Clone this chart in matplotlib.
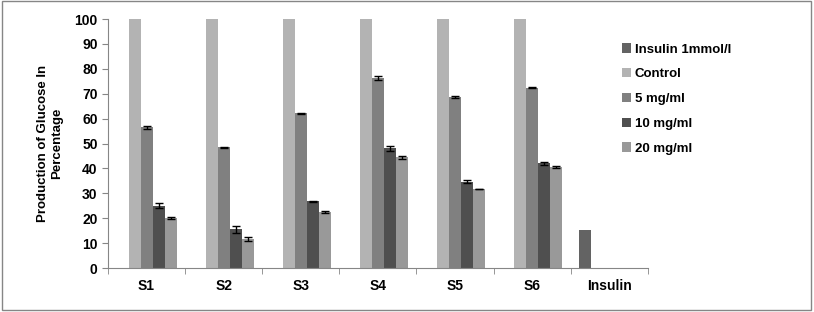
# -*- coding: utf-8 -*-
import numpy as np
import matplotlib
matplotlib.use('Agg')
import matplotlib.pyplot as plt
from matplotlib.patches import Rectangle

plt.rcParams['font.family'] = ['Liberation Sans', 'DejaVu Sans']

categories = ['S1', 'S2', 'S3', 'S4', 'S5', 'S6', 'Insulin']
series = ['Insulin 1mmol/l', 'Control', '5 mg/ml', '10 mg/ml', '20 mg/ml']
insulin = [0, 0, 0, 0, 0, 0, 15.3]
control = [100, 100, 100, 100, 100, 100, 0]
mg5 = [56.5, 48.5, 62.1, 76.3, 68.7, 72.5, 0]
mg10 = [25.0, 15.5, 26.8, 48.0, 34.7, 42.0, 0]
mg20 = [20.0, 11.5, 22.4, 44.4, 31.8, 40.4, 0]
err_mg5 = [0.5, 0.3, 0.3, 0.8, 0.3, 0.4, 0]
err_mg10 = [1.0, 1.4, 0.1, 1.0, 0.6, 0.7, 0]
err_mg20 = [0.4, 0.8, 0.4, 0.7, 0.1, 0.4, 0]

colors = ['#636363', '#b3b3b3', '#808080', '#4f4f4f', '#999999']

fig = plt.figure(figsize=(8.14, 3.12), dpi=100)
ax = fig.add_axes([0.1327, 0.141, 0.663, 0.798])

x = np.arange(len(categories))
w = 0.156
values = [insulin, control, mg5, mg10, mg20]
errs = [None, None, err_mg5, err_mg10, err_mg20]
for i, (vals, c, lab) in enumerate(zip(values, colors, series)):
    pos = x + (i - 2) * w
    ax.bar(pos, vals, w, color=c, label=lab)
    if errs[i] is not None:
        ax.errorbar(pos[:6], vals[:6], yerr=errs[i][:6], fmt='none',
                    ecolor='black', elinewidth=1, capsize=3, capthick=1)

ax.set_xlim(-0.5, len(categories) - 0.5)
ax.set_ylim(0, 100)
ax.set_yticks(np.arange(0, 101, 10))
ax.set_xticks(x)
ax.set_xticklabels(categories, fontweight='bold', fontsize=10)
ax.set_xticks(np.arange(-0.5, len(categories)), minor=True)
ax.tick_params(axis='x', which='major', length=0, pad=8)
ax.tick_params(axis='x', which='minor', length=4, color='#868686', direction='out')
ax.tick_params(axis='y', length=4, color='#868686', labelsize=10)
for t in ax.get_yticklabels():
    t.set_fontweight('bold')

for s in ['top', 'right']:
    ax.spines[s].set_visible(False)
for s in ['left', 'bottom']:
    ax.spines[s].set_color('#868686')

ax.set_ylabel('Production of Glucose In\nPercentage', fontweight='bold', fontsize=9.5,
              labelpad=8)

ax.legend(loc='upper left', bbox_to_anchor=(0.93, 0.95), frameon=False,
          prop={'weight': 'bold', 'size': 9.5}, handlelength=0.7, handleheight=0.7,
          handletextpad=0.3, labelspacing=0.95)

fig.patches.append(Rectangle((0.002, 0.006), 0.994, 0.99, transform=fig.transFigure,
                             fill=False, edgecolor='#868686', linewidth=1))

fig.savefig('out.png', dpi=100)
